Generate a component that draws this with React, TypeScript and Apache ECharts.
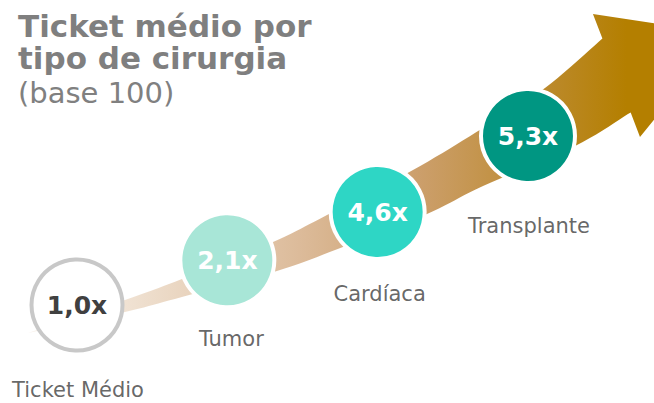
import React, { useEffect, useRef } from "react";
import * as echarts from "echarts";

// ---- data ----
const categories = ["Ticket Médio", "Tumor", "Cardíaca", "Transplante"];
const multipliers = [1.0, 2.1, 4.6, 5.3];

// ---- layout (axis units: x = category index, y = height along the arrow) ----
const bubbleY = [1.0, 2.12, 3.325, 5.225];
const labelOffset: [number, number][] = [[1, 85], [4, 79], [2, 82], [1, 90]];
const bubbleColors = ["#ffffff", "#a8e6d7", "#2ed6c5", "#009682"];
const bubbleText = ["#404040", "#ffffff", "#ffffff", "#ffffff"];

// arrow outline (axis units)
const ARROW_TAIL: [number, number] = [-0.326, 0.3];
const ARROW_UPPER: [number, number][] = [
  [0.319, 1.125], [0.698, 1.65], [1.304, 2.575], [1.663, 3.25],
  [2.235, 4.375], [2.701, 5.425], [3.113, 6.425], [3.495, 7.66],
];
const ARROW_LOWER: [number, number][] = [
  [0.319, 0.825], [0.698, 1.2], [1.33, 1.85], [1.769, 2.45],
  [2.328, 3.275], [2.701, 3.975], [3.313, 4.975], [3.683, 5.815],
];
const ARROW_HEAD: [number, number][] = [[3.432, 8.275], [4.304, 7.775], [3.745, 5.2]];

const FONT = "DejaVu Sans, Verdana, sans-serif";

function spline(pts: number[][], seg = 10): number[][] {
  const out: number[][] = [];
  for (let i = 0; i < pts.length - 1; i++) {
    const p0 = pts[Math.max(0, i - 1)];
    const p1 = pts[i];
    const p2 = pts[i + 1];
    const p3 = pts[Math.min(pts.length - 1, i + 2)];
    for (let s = 0; s < seg; s++) {
      const t = s / seg, t2 = t * t, t3 = t2 * t;
      const f = (a: number, b: number, c: number, d: number) =>
        0.5 * (2 * b + (-a + c) * t + (2 * a - 5 * b + 4 * c - d) * t2 + (-a + 3 * b - 3 * c + d) * t3);
      out.push([f(p0[0], p1[0], p2[0], p3[0]), f(p0[1], p1[1], p2[1], p3[1])]);
    }
  }
  out.push(pts[pts.length - 1]);
  return out;
}

export default function App() {
  const ref = useRef<HTMLDivElement>(null);
  useEffect(() => {
    if (!ref.current) return;
    const chart = echarts.init(ref.current, null, { renderer: "svg" });
    const titleStyle = { fontFamily: FONT, fontSize: 31, fontWeight: "bold", color: "#7f7f7f", lineHeight: 32 };
    const option: any = {
      animation: false,
      backgroundColor: "#ffffff",
      title: [
        { text: "Ticket médio por", left: 18, top: 10, padding: 0, textStyle: titleStyle },
        { text: "tipo de cirurgia", left: 18, top: 42, padding: 0, textStyle: titleStyle },
        {
          text: "(base 100)",
          left: 18,
          top: 78,
          padding: 0,
          textStyle: { fontFamily: FONT, fontSize: 29, fontWeight: "normal", color: "#808080", lineHeight: 29 },
        },
      ],
      grid: { left: 0, right: 0, top: 0, bottom: 0 },
      xAxis: { type: "value", min: -77 / 150.33, max: (654 - 77) / 150.33, show: false },
      yAxis: { type: "value", min: -1.45, max: 8.625, show: false },
      series: [
        {
          type: "custom",
          silent: true,
          z: 1,
          data: [[0, 0]],
          renderItem: (_params: any, api: any) => {
            const c = (p: number[]) => api.coord(p);
            const up = spline([ARROW_TAIL, ...ARROW_UPPER].map(c));
            const lo = spline([ARROW_TAIL, ...ARROW_LOWER].map(c));
            const head = ARROW_HEAD.map(c);
            const pts = [...up, ...head, ...lo.slice(1).reverse()];
            return {
              type: "polygon",
              shape: { points: pts },
              style: {
                fill: new echarts.graphic.LinearGradient(0, 0, 1, 0, [
                  { offset: 0, color: "#f8f1ea" },
                  { offset: 0.14, color: "#f0e2d3" },
                  { offset: 0.39, color: "#dcbb9a" },
                  { offset: 0.56, color: "#cc9f6c" },
                  { offset: 0.74, color: "#bc8a2e" },
                  { offset: 0.86, color: "#b47f00" },
                  { offset: 1, color: "#b47f00" },
                ]),
              },
            };
          },
        },
        {
          type: "scatter",
          silent: true,
          z: 3,
          symbol: "circle",
          data: categories.map((_, i) => ({
            value: [i, bubbleY[i]],
            symbolSize: i === 0 ? 91 : 94,
            itemStyle: {
              color: bubbleColors[i],
              borderColor: i === 0 ? "#c8c8c8" : "#ffffff",
              borderWidth: 4,
              opacity: 1,
            },
            label: {
              show: true,
              position: "inside",
              formatter: multipliers[i].toFixed(1).replace(".", ",") + "x",
              color: bubbleText[i],
              fontFamily: FONT,
              fontWeight: "bold",
              fontSize: 25,
            },
          })),
        },
        {
          type: "scatter",
          silent: true,
          z: 4,
          symbolSize: 1,
          itemStyle: { color: "rgba(0,0,0,0)" },
          data: categories.map((name, i) => ({
            value: [i, bubbleY[i]],
            label: {
              show: true,
              position: "inside",
              offset: labelOffset[i],
              formatter: name,
              color: "#404040",
              fontFamily: FONT,
              fontSize: 21,
            },
          })),
        },
      ],
    };
    chart.setOption(option);
    return () => chart.dispose();
  }, []);
  return <div ref={ref} style={{ position: "fixed", left: 0, top: 0, width: 654, height: 403 }} />;
}
